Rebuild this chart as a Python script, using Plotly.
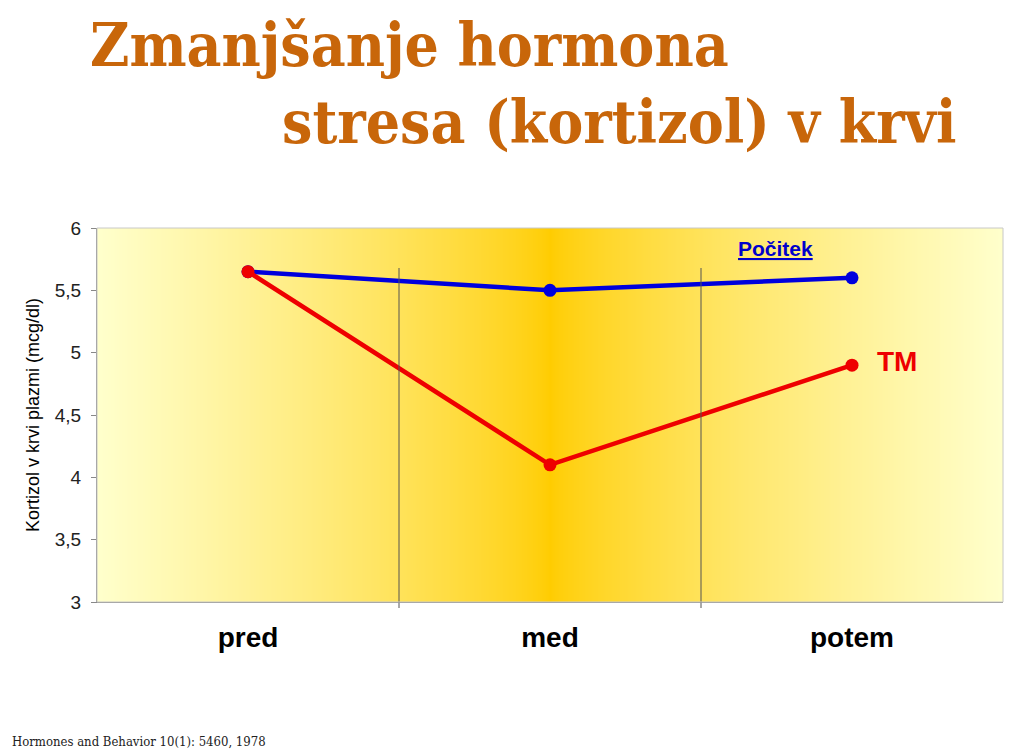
import plotly.graph_objects as go

categories = ["pred", "med", "potem"]
pocitek = [5.65, 5.5, 5.6]
tm = [5.65, 4.1, 4.9]
y_ticks = [3, 3.5, 4, 4.5, 5, 5.5, 6]
y_tick_labels = ["3", "3,5", "4", "4,5", "5", "5,5", "6"]

W, H = 1024, 753
L, R, T, B = 97, 21, 228, 151
PW, PH = W - L - R, H - T - B


def px(xp):
    return (xp - L) / PW


def py(yp):
    return (H - B - yp) / PH


fig = go.Figure()

# gradient background via heatmap
n = 301
xs = [-0.5 + 3.0 * i / (n - 1) for i in range(n)]
zrow = [min(abs(v - 1) / 1.5, 1.0) ** 0.75 for v in xs]
fig.add_trace(go.Heatmap(x=xs, y=[3, 6], z=[zrow, zrow], zsmooth="best",
                         colorscale=[[0, "#FFCC00"], [1, "#FFFFCC"]], zmin=0, zmax=1,
                         showscale=False, hoverinfo="skip"))

fig.add_trace(go.Scatter(x=[0, 1, 2], y=pocitek, mode="lines+markers",
                         line=dict(color="#0000DD", width=4.5),
                         marker=dict(color="#0000DD", size=13), cliponaxis=False))
fig.add_trace(go.Scatter(x=[0, 1, 2], y=tm, mode="lines+markers",
                         line=dict(color="#EE0000", width=4.5),
                         marker=dict(color="#EE0000", size=13), cliponaxis=False))

# category dividers
for xv in [0.5, 1.5]:
    fig.add_shape(type="line", xref="x", yref="paper", x0=xv, x1=xv, y0=py(608), y1=py(268),
                  line=dict(color="#555555", width=1), layer="above")

# plot frame (top/right light)
fig.add_shape(type="rect", xref="paper", yref="paper", x0=0, x1=1, y0=0, y1=1,
              line=dict(color="#C8C8C8", width=1), layer="above")

fig.add_annotation(x=px(775), xref="paper", y=py(248), yref="paper", text="<b><u>Počitek</u></b>",
                   showarrow=False, xanchor="center", yanchor="middle",
                   font=dict(family="Arial, Liberation Sans", size=21, color="#0000CC"))
fig.add_annotation(x=px(897), xref="paper", y=py(361), yref="paper", text="<b>TM</b>",
                   showarrow=False, xanchor="center", yanchor="middle",
                   font=dict(family="Arial, Liberation Sans", size=28, color="#EE0000"))

fig.update_layout(
    width=W, height=H,
    margin=dict(l=L, r=R, t=T, b=B),
    paper_bgcolor="white", plot_bgcolor="#FFF5B0",
    showlegend=False,
    xaxis=dict(range=[-0.5, 2.5], tickvals=[0, 1, 2], ticktext=["<b>%s</b>" % c for c in categories],
               tickfont=dict(family="Arial, Liberation Sans", size=28, color="black"),
               showgrid=False, zeroline=False, showline=True, linecolor="#888888",
               linewidth=1, ticks="", ticklabelstandoff=10),
    yaxis=dict(range=[3, 6], tickvals=y_ticks, ticktext=y_tick_labels,
               tickfont=dict(family="Arial, Liberation Sans", size=19, color="#222222"),
               showgrid=False, zeroline=False, showline=True, linecolor="#888888",
               linewidth=1, ticks="outside", ticklen=5, tickcolor="#888888",
               ticklabelstandoff=6,
               title=dict(text="Kortizol v krvi plazmi (mcg/dl)",
                          font=dict(family="Arial, Liberation Sans", size=18, color="black"),
                          standoff=10)),
)

# titles
fig.add_annotation(x=px(88), xref="paper", y=py(45), yref="paper",
                   xanchor="left", yanchor="middle", showarrow=False,
                   text="<b>Zmanjšanje hormona</b>",
                   font=dict(family="DejaVu Serif Condensed, DejaVu Serif", size=60, color="#C8660A"))
fig.add_annotation(x=px(958), xref="paper", y=py(122), yref="paper",
                   xanchor="right", yanchor="middle", showarrow=False,
                   text="<b>stresa (kortizol) v krvi</b>",
                   font=dict(family="DejaVu Serif Condensed, DejaVu Serif", size=60, color="#C8660A"))
fig.add_annotation(x=px(10), xref="paper", y=py(741), yref="paper",
                   xanchor="left", yanchor="middle", showarrow=False,
                   text="Hormones and Behavior 10(1): 5460, 1978",
                   font=dict(family="DejaVu Serif Condensed, Liberation Serif", size=13, color="#222222"))

fig.write_html("out.html")
